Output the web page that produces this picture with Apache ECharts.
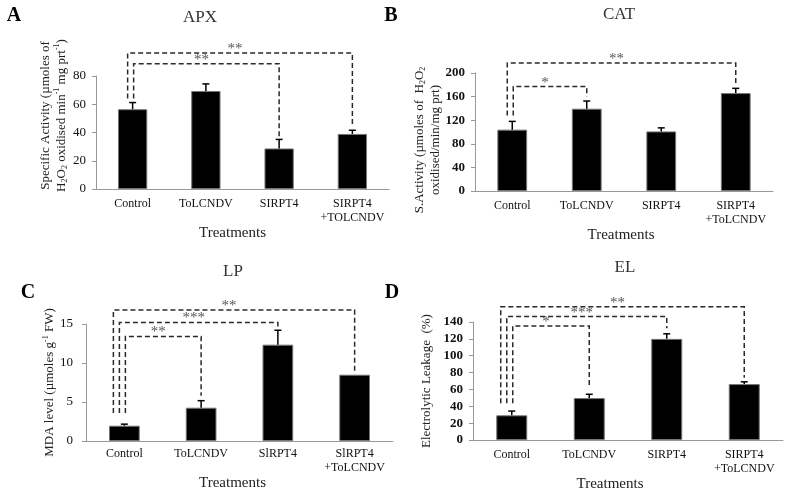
<!DOCTYPE html>
<html>
<head>
<meta charset="utf-8">
<script src="https://cdn.jsdelivr.net/npm/echarts@6/dist/echarts.min.js"></script>
<style>
  html, body { margin: 0; background: #fff; }
  #main { width: 787px; height: 493px; }
</style>
</head>
<body>
<div id="main"></div>
<script>
  // categories (as printed under each panel)
  const catsA = ['Control', 'ToLCNDV', 'SIRPT4', 'SIRPT4\n+TOLCNDV']
  const catsB = ['Control', 'ToLCNDV', 'SIRPT4', 'SIRPT4\n+ToLCNDV']
  const catsC = ['Control', 'ToLCNDV', 'SlRPT4', 'SlRPT4\n+ToLCNDV']
  const catsD = ['Control', 'ToLCNDV', 'SIRPT4', 'SIRPT4\n+ToLCNDV']

  // means and (upper) error bars
  const apxMean = [56.5, 69.4, 28.7, 39.0]
  const apxErr = [4.7, 5.0, 6.4, 2.6]
  const catMean = [104, 139.5, 101, 166]
  const catErr = [14, 13, 6, 8]
  const lpMean = [1.96, 4.27, 12.35, 8.5]
  const lpErr = [0.2, 0.9, 1.85, 0]
  const elMean = [29.4, 49.8, 120, 66.4]
  const elErr = [5, 4.5, 6, 2.7]

  // significance brackets: [from, to, level, left foot, right foot, stars]
  const apxBrackets = [[0, 3, 96.2, 64, 44, '**'], [0, 2, 88.7, 64, 37, '**']]
  const catBrackets = [[0, 3, 217, 128, 183, '**'], [0, 1, 177, 128, 160, '*']]
  const lpBrackets = [[0, 3, 16.8, 3.6, 8.7, '**'], [0, 2, 15.2, 3.6, 14.4, '***'], [0, 1, 13.4, 3.6, 5.8, '**']]
  const elBrackets = [[0, 3, 158, 43.7, 74, '**'], [0, 2, 146.4, 43.7, 132.5, '***'], [0, 1, 135.4, 43.7, 62.6, '*']]

  const serif = 'Liberation Serif'
  const chart = echarts.init(document.getElementById('main'))

  function errorSeries (idx, mean, err) {
    return {
      type: 'custom',
      xAxisIndex: idx,
      yAxisIndex: idx,
      z: 4,
      data: mean.map((m, i) => [i, m, err[i]]),
      renderItem: function (params, api) {
        const i = api.value(0)
        const m = api.value(1)
        const e = api.value(2)
        if (!e) return
        const base = api.coord([i, m])
        const top = api.coord([i, m + e])
        return {
          type: 'group',
          children: [
            {type: 'line', shape: {x1: base[0], y1: base[1], x2: top[0], y2: top[1]}, style: {stroke: '#000', lineWidth: 1.5}},
            {type: 'line', shape: {x1: top[0] - 3.5, y1: top[1], x2: top[0] + 3.5, y2: top[1]}, style: {stroke: '#000', lineWidth: 1.5}}
          ]
        }
      }
    }
  }

  function bracketSeries (idx, list) {
    return {
      type: 'custom',
      xAxisIndex: idx,
      yAxisIndex: idx,
      z: 5,
      data: list.map(b => b.slice(0, 5)),
      renderItem: function (params, api) {
        const n = list.length
        const dx = (params.dataIndex - (n - 1)) * 6 + 1
        const from = api.coord([api.value(0), api.value(2)])
        const to = api.coord([api.value(1), api.value(2)])
        const lf = api.coord([api.value(0), api.value(3)])
        const rf = api.coord([api.value(1), api.value(4)])
        const xl = from[0] + dx
        return {
          type: 'group',
          children: [
            {
              type: 'polyline',
              shape: {points: [[xl, lf[1]], [xl, from[1]], [to[0], to[1]], [to[0], rf[1]]]},
              style: {stroke: '#2a2a2a', fill: 'none', lineWidth: 1.5, lineDash: [5, 3]}
            },
            {
              type: 'text',
              x: (xl + to[0]) / 2 - 5,
              y: from[1] - 4,
              style: {text: list[params.dataIndex][5], fill: '#555', font: '15px ' + serif, textAlign: 'center', textVerticalAlign: 'middle'}
            }
          ]
        }
      }
    }
  }

  function barSeries (idx, mean) {
    return {
      type: 'bar',
      xAxisIndex: idx,
      yAxisIndex: idx,
      barWidth: '40%',
      itemStyle: {color: '#000', borderColor: '#777', borderWidth: 1},
      data: mean
    }
  }

  function xAxis (idx, cats, margin, gap, shift) {
    return {
      type: 'category',
      gridIndex: idx,
      data: cats,
      axisLine: {lineStyle: {color: '#999'}},
      axisTick: {length: 4, lineStyle: {color: '#999'}},
      axisLabel: {interval: 0, color: '#111', fontFamily: serif, fontSize: 12, lineHeight: 14, margin: margin},
      name: 'Treatments',
      nameLocation: 'middle',
      nameGap: gap,
      nameTextStyle: {color: '#222', fontFamily: serif, fontSize: 15, padding: shift}
    }
  }

  const richName = {
    t: {fontFamily: serif, fontSize: 13, lineHeight: 16, color: '#222'},
    s: {fontFamily: serif, fontSize: 8, lineHeight: 8, verticalAlign: 'bottom', color: '#222'},
    p: {fontFamily: serif, fontSize: 8, lineHeight: 8, verticalAlign: 'top', color: '#222'}
  }

  function yAxis (idx, max, interval, bold, name, gap, pad, margin) {
    return {
      type: 'value',
      gridIndex: idx,
      min: 0,
      max: max,
      interval: interval,
      splitLine: {show: false},
      axisLine: {show: true, lineStyle: {color: '#999'}},
      axisTick: {show: true, length: 4, lineStyle: {color: '#999'}},
      axisLabel: {color: '#111', fontFamily: serif, fontSize: 13, fontWeight: bold ? 'bold' : 'normal', margin: margin},
      name: name,
      nameLocation: 'middle',
      nameGap: gap,
      nameTextStyle: {fontFamily: serif, fontSize: 13, color: '#222', padding: pad, rich: richName}
    }
  }

  function txt (x, y, s, size, weight, color) {
    return {
      type: 'text',
      x: x,
      y: y,
      style: {text: s, font: weight + ' ' + size + 'px ' + serif, fill: color, textAlign: 'center', textVerticalAlign: 'middle'}
    }
  }

  const option = {
    animation: false,
    grid: [
      {left: 96, right: 398, top: 76, bottom: 304},
      {left: 475, right: 14, top: 73, bottom: 302},
      {left: 86, right: 394, top: 324, bottom: 52},
      {left: 473, right: 4, top: 322, bottom: 48}
    ],
    xAxis: [
      xAxis(0, catsA, 8, 29, [0, 20, 0, 0]),
      xAxis(1, catsB, 8, 28, [0, 6, 0, 0]),
      xAxis(2, catsC, 6, 23, [0, 14, 0, 0]),
      xAxis(3, catsD, 8, 30, [0, 36, 0, 0])
    ],
    yAxis: [
      yAxis(0, 80, 20, false,
        '{t|Specific Activity (\u00b5moles of}\n{t|H}{s|2}{t|O}{s|2}{t| oxidised min}{p|-1}{t| mg prt}{p|-1}{t|)}',
        25, [0, 0, 0, 34], 10),
      yAxis(1, 200, 40, true,
        '{t|S.Activity (\u00b5moles of  H}{s|2}{t|O}{s|2}\n{t|oxidised/min/mg prt)}',
        31, [0, 16, 0, 0], 10),
      yAxis(2, 15, 5, false,
        '{t|MDA level (\u00b5moles g}{p|-1}{t| FW)}',
        26, [0, 0, 0, 0], 13),
      yAxis(3, 140, 20, true,
        '{t|Electrolytic Leakage  (%)}',
        38, [0, 0, 0, 0], 10)
    ],
    graphic: [
      txt(14, 16, 'A', 20, 'bold', '#000'),
      txt(391, 16, 'B', 20, 'bold', '#000'),
      txt(28, 293, 'C', 20, 'bold', '#000'),
      txt(392, 293, 'D', 20, 'bold', '#000'),
      txt(200, 18, 'APX', 17, 'normal', '#333'),
      txt(619, 15, 'CAT', 17, 'normal', '#333'),
      txt(233, 272, 'LP', 17, 'normal', '#333'),
      txt(625, 268, 'EL', 17, 'normal', '#333')
    ],
    series: [
      barSeries(0, apxMean), errorSeries(0, apxMean, apxErr), bracketSeries(0, apxBrackets),
      barSeries(1, catMean), errorSeries(1, catMean, catErr), bracketSeries(1, catBrackets),
      barSeries(2, lpMean), errorSeries(2, lpMean, lpErr), bracketSeries(2, lpBrackets),
      barSeries(3, elMean), errorSeries(3, elMean, elErr), bracketSeries(3, elBrackets)
    ]
  }

  chart.setOption(option)
</script>
</body>
</html>
